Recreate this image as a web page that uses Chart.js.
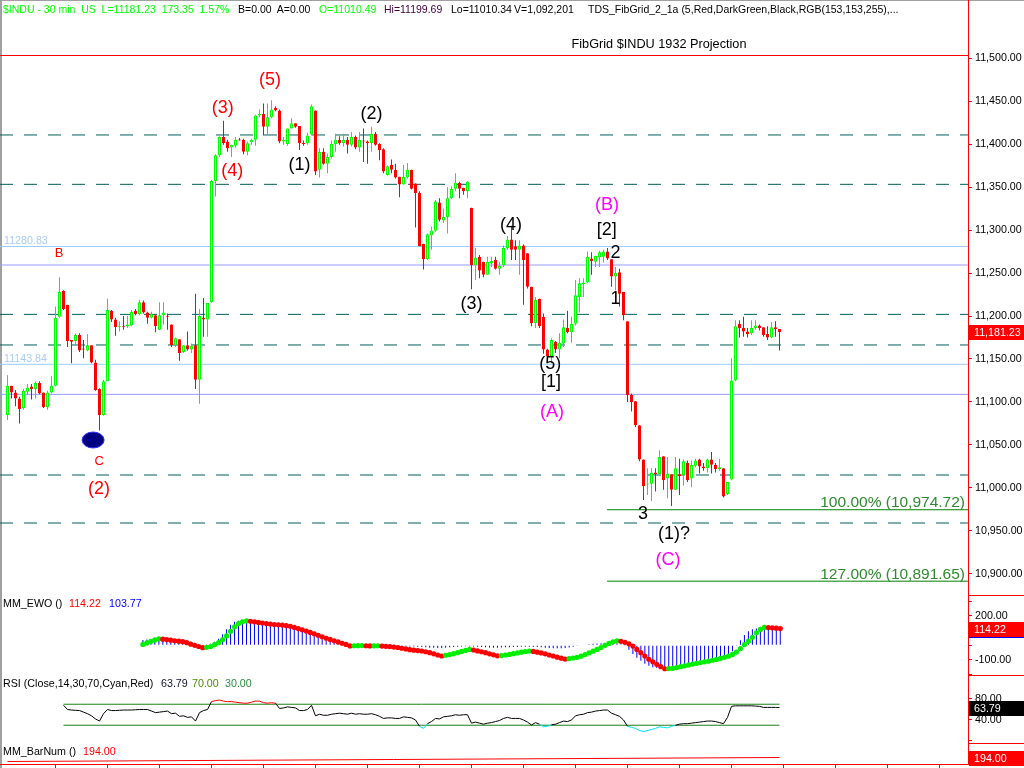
<!DOCTYPE html>
<html>
<head>
<meta charset="utf-8">
<title>$INDU - 30 min</title>
<script src="https://cdn.jsdelivr.net/npm/chart.js"></script>
<style>
  html, body { margin: 0; padding: 0; background: #fff; }
  #wrap { position: relative; width: 1024px; height: 768px; overflow: hidden; background: #fff;
          font-family: "Liberation Sans", Arial, sans-serif; }
  #wrap canvas { position: absolute; left: 0; top: 0; }
  .t { position: absolute; font-size: 10.7px; line-height: 12px; white-space: pre; color: #000; }
  .h { font-size: 10.5px; top: 3px; }
  .ln { position: absolute; background: #ff0000; }
</style>
</head>
<body>
<div id="wrap">
  <div style="position:absolute;left:0;top:0;width:2px;height:768px;background:#a0a0a0"></div>
  <div style="position:absolute;left:0;top:0;width:1024px;height:1px;background:#a0a0a0"></div>
  <div class="ln" style="left:0;top:55px;width:968px;height:1px"></div>
  <div class="ln" style="left:968px;top:0;width:1px;height:765px"></div>
  <div class="ln" style="left:968px;top:595px;width:56px;height:1px"></div>
  <div class="ln" style="left:968px;top:675px;width:56px;height:1px"></div>
  <div class="ln" style="left:968px;top:743px;width:56px;height:1px"></div>

  <canvas id="cPrice" width="1024" height="768"></canvas>
  <canvas id="cEwo" width="1024" height="768"></canvas>
  <canvas id="cRsi" width="1024" height="768"></canvas>
  <canvas id="cBar" width="1024" height="768"></canvas>

  <!-- header line -->
  <div class="t h" style="left:3px;color:#00ff00">$INDU - 30 min  US  L=11181.23  173.35  1.57%</div>
  <div class="t h" style="left:238px">B=0.00  A=0.00</div>
  <div class="t h" style="left:319px;color:#00ff00">O=11010.49</div>
  <div class="t h" style="left:384px;color:#400040">Hi=11199.69</div>
  <div class="t h" style="left:451px">Lo=11010.34</div>
  <div class="t h" style="left:514px">V=1,092,201</div>
  <div class="t h" style="left:588px">TDS_FibGrid_2_1a (5,Red,DarkGreen,Black,RGB(153,153,255),...</div>
  <div class="t" style="left:659px;top:37px;font-size:12.7px;line-height:14px;transform:translateX(-50%)">FibGrid $INDU 1932 Projection</div>

  <!-- indicator captions -->
  <div class="t" style="left:3px;top:597px">MM_EWO ()</div>
  <div class="t" style="left:69px;top:597px;color:#ff0000">114.22</div>
  <div class="t" style="left:109px;top:597px;color:#0000ff">103.77</div>
  <div class="t" style="left:3px;top:677px">RSI (Close,14,30,70,Cyan,Red)</div>
  <div class="t" style="left:161px;top:677px;color:#101030">63.79</div>
  <div class="t" style="left:192px;top:677px;color:#4c8c00">70.00</div>
  <div class="t" style="left:225px;top:677px;color:#2c8c40">30.00</div>
  <div class="t" style="left:3px;top:745px">MM_BarNum ()</div>
  <div class="t" style="left:83px;top:745px;color:#ff0000">194.00</div>
</div>

<script>
// 30 min bars, bar 0 .. 193
const opens = [
  11085, 11119, 11111, 11104, 11093, 11112, 11118, 11115, 11122, 11111,
  11094, 11111, 11119, 11199, 11229, 11213, 11172, 11171, 11178, 11162,
  11160, 11166, 11146, 11115, 11085, 11124, 11206, 11196, 11187, 11188,
  11188, 11189, 11206, 11202, 11216, 11204, 11198, 11201, 11184, 11201,
  11200, 11190, 11166, 11173, 11158, 11166, 11161, 11166, 11126, 11198,
  11196, 11216, 11357, 11387, 11408, 11403, 11396, 11398, 11405, 11405,
  11391, 11402, 11405, 11433, 11435, 11420, 11431, 11442, 11439, 11403,
  11400, 11418, 11424, 11421, 11401, 11401, 11411, 11439, 11370, 11391,
  11377, 11385, 11400, 11405, 11401, 11405, 11399, 11408, 11396, 11404,
  11403, 11401, 11412, 11400, 11394, 11364, 11376, 11370, 11362, 11353,
  11361, 11370, 11354, 11343, 11284, 11266, 11294, 11299, 11332, 11311,
  11315, 11337, 11348, 11355, 11349, 11345, 11326, 11259, 11269, 11263,
  11248, 11261, 11265, 11255, 11259, 11279, 11289, 11281, 11277, 11282,
  11273, 11234, 11192, 11220, 11199, 11161, 11153, 11170, 11161, 11168,
  11186, 11181, 11191, 11222, 11237, 11239, 11267, 11263, 11268, 11269,
  11275, 11266, 11246, 11251, 11228, 11194, 11108, 11101, 11073, 11033,
  11004, 11005, 11018, 11016, 11037, 11011, 11016, 10998, 11016, 11015,
  11029, 11011, 11026, 11033, 11025, 11023, 11033, 11027, 11022, 11023,
  10993, 11010, 11125, 11191, 11186, 11182, 11180, 11186, 11189, 11187,
  11179, 11175, 11187, 11185
];
const highs = [
  11131, 11119, 11114, 11106, 11115, 11121, 11121, 11124, 11124, 11111,
  11113, 11130, 11211, 11245, 11230, 11213, 11172, 11180, 11180, 11172,
  11179, 11166, 11149, 11116, 11126, 11220, 11207, 11198, 11194, 11200,
  11200, 11207, 11208, 11219, 11218, 11205, 11205, 11201, 11216, 11216,
  11203, 11190, 11175, 11173, 11166, 11182, 11168, 11226, 11208, 11221,
  11215, 11358, 11388, 11409, 11427, 11405, 11399, 11408, 11407, 11406,
  11403, 11406, 11434, 11440, 11447, 11447, 11451, 11444, 11440, 11408,
  11418, 11430, 11424, 11421, 11404, 11413, 11446, 11439, 11395, 11395,
  11389, 11404, 11412, 11409, 11412, 11408, 11414, 11410, 11414, 11418,
  11404, 11420, 11414, 11401, 11395, 11375, 11382, 11377, 11362, 11376,
  11378, 11370, 11354, 11345, 11284, 11296, 11304, 11335, 11337, 11325,
  11350, 11351, 11366, 11356, 11349, 11357, 11326, 11279, 11271, 11263,
  11269, 11269, 11269, 11263, 11282, 11293, 11305, 11288, 11288, 11283,
  11273, 11234, 11222, 11220, 11203, 11162, 11174, 11171, 11180, 11196,
  11206, 11199, 11242, 11244, 11244, 11275, 11274, 11270, 11276, 11277,
  11279, 11266, 11257, 11255, 11228, 11194, 11110, 11101, 11073, 11033,
  11023, 11023, 11023, 11044, 11037, 11036, 11016, 11036, 11034, 11033,
  11032, 11032, 11034, 11034, 11029, 11034, 11042, 11029, 11034, 11023,
  11007, 11151, 11195, 11195, 11199, 11186, 11195, 11195, 11190, 11187,
  11188, 11193, 11194, 11185
];
const lows = [
  11079, 11104, 11095, 11075, 11091, 11108, 11103, 11104, 11109, 11093,
  11091, 11110, 11118, 11198, 11207, 11164, 11145, 11166, 11158, 11151,
  11159, 11145, 11113, 11067, 11084, 11124, 11193, 11177, 11182, 11184,
  11186, 11188, 11201, 11201, 11203, 11191, 11197, 11181, 11184, 11190,
  11184, 11164, 11164, 11148, 11157, 11160, 11157, 11115, 11098, 11176,
  11176, 11215, 11339, 11385, 11399, 11391, 11385, 11396, 11404, 11388,
  11387, 11399, 11398, 11431, 11410, 11410, 11430, 11438, 11401, 11399,
  11398, 11418, 11419, 11393, 11398, 11399, 11410, 11364, 11361, 11376,
  11366, 11383, 11391, 11399, 11397, 11389, 11397, 11394, 11391, 11379,
  11377, 11391, 11398, 11381, 11366, 11363, 11366, 11360, 11338, 11353,
  11360, 11347, 11303, 11281, 11254, 11265, 11277, 11298, 11310, 11308,
  11296, 11336, 11345, 11337, 11341, 11337, 11231, 11242, 11244, 11245,
  11248, 11257, 11254, 11248, 11257, 11277, 11265, 11265, 11248, 11213,
  11232, 11188, 11186, 11186, 11156, 11148, 11145, 11157, 11151, 11164,
  11180, 11169, 11189, 11204, 11222, 11238, 11248, 11257, 11257, 11262,
  11265, 11234, 11230, 11211, 11195, 11100, 11089, 11071, 11031, 10986,
  10992, 10985, 10996, 11015, 10998, 10988, 10979, 10998, 10992, 11003,
  11007, 11001, 11024, 11017, 11020, 11018, 11017, 11018, 11020, 10989,
  10992, 11009, 11124, 11175, 11176, 11175, 11178, 11184, 11183, 11176,
  11172, 11174, 11176, 11160
];
const closes = [
  11119, 11111, 11104, 11092, 11113, 11117, 11115, 11122, 11110, 11094,
  11111, 11119, 11198, 11228, 11208, 11171, 11170, 11178, 11160, 11161,
  11166, 11146, 11114, 11085, 11124, 11207, 11196, 11187, 11188, 11187,
  11190, 11205, 11202, 11216, 11204, 11198, 11202, 11188, 11201, 11204,
  11199, 11166, 11174, 11157, 11166, 11161, 11165, 11126, 11200, 11196,
  11215, 11357, 11387, 11408, 11401, 11395, 11399, 11405, 11404, 11391,
  11401, 11405, 11433, 11435, 11420, 11431, 11440, 11439, 11403, 11405,
  11418, 11424, 11420, 11401, 11400, 11410, 11444, 11368, 11391, 11377,
  11385, 11400, 11405, 11401, 11405, 11399, 11408, 11396, 11405, 11403,
  11401, 11412, 11399, 11393, 11368, 11374, 11370, 11361, 11353, 11362,
  11370, 11348, 11343, 11281, 11266, 11295, 11299, 11333, 11312, 11315,
  11337, 11348, 11355, 11348, 11345, 11356, 11259, 11268, 11253, 11248,
  11263, 11264, 11255, 11258, 11279, 11289, 11277, 11277, 11282, 11265,
  11234, 11192, 11219, 11188, 11161, 11153, 11172, 11161, 11169, 11187,
  11181, 11191, 11224, 11238, 11239, 11269, 11264, 11270, 11274, 11275,
  11267, 11246, 11250, 11226, 11201, 11108, 11100, 11073, 11033, 11002,
  11005, 11018, 11016, 11036, 11009, 11017, 10998, 11023, 11014, 11031,
  11009, 11027, 11032, 11025, 11023, 11033, 11027, 11022, 11024, 10990,
  11007, 11125, 11188, 11186, 11182, 11179, 11186, 11189, 11186, 11178,
  11175, 11187, 11185, 11181.23
];

// MM_EWO, from bar 33
const ewoFirstBar = 33;
const ewoLine = [
  6, 16, 27, 37, 44, 42, 39, 35, 31, 28,
  25, 18, 8, 0, -8, -16, -14, -8, 4, 18,
  38, 64, 95, 125, 148, 160, 166, 164, 160, 156,
  152, 148, 145, 142, 140, 138, 134, 130, 122, 114,
  106, 97, 88, 78, 68, 58, 48, 40, 31, 23,
  14, 6, -4, -3, -2.5, -2, -3, -4, -3.5, -3,
  -5, -7, -9, -12, -15, -20, -25, -30, -33, -36,
  -39, -44, -50, -58, -66, -73, -68, -63, -57, -50,
  -42, -35, -28, -32, -38, -44, -50, -58, -65, -72,
  -70, -66, -62, -57, -52, -47, -43, -39, -42, -47,
  -52, -58, -66, -73, -81, -88, -94, -91, -87, -82,
  -74, -63, -52, -40, -28, -15, 0, 13, 24, 31,
  27, 20, 10, -5, -28, -50, -73, -95, -113, -130,
  -146, -160, -159, -157, -152, -146, -140, -134, -128, -123,
  -118, -113, -108, -102, -96, -89, -82, -74, -62, -46,
  -22, 5, 28, 55, 85, 108, 122, 121, 119, 117,
  114.22
];
const ewoHist = [
  36, 40, 42, 42, 40, 36, 32, 28, 24, 20,
  15, 10, 5, 2, 0, -2, 2, 10, 25, 45,
  75, 110, 140, 160, 168, 165, 160, 155, 150, 148,
  146, 144, 142, 140, 138, 136, 130, 122, 112, 102,
  92, 82, 72, 62, 52, 42, 34, 26, 18, 12,
  8, 5, 4, 3, 3, 3, 3, 2, 2, 2,
  1, 0, -2, -4, -5, -6, -7, -8, -9, -10,
  -12, -14, -16, -17, -18, -18, -16, -14, -12, -10,
  -8, -7, -6, -8, -10, -12, -14, -15, -16, -16,
  -15, -14, -13, -12, -11, -10, -10, -10, -11, -12,
  -14, -16, -18, -20, -20, -20, -18, -15, -10, -5,
  0, 4, 8, 10, 12, 14, 15, 16, 16, 14,
  8, -5, -30, -60, -85, -105, -125, -140, -150, -155,
  -158, -160, -158, -155, -150, -145, -140, -134, -128, -122,
  -116, -110, -104, -97, -90, -82, -74, -65, -40, -5,
  35, 70, 95, 110, 114, 116, 116, 115, 114, 112,
  103.77
];

// RSI(14), from bar 14
const rsiFirstBar = 14;
const rsiValues = [
  68, 60, 59, 58.5, 58, 55, 52, 48, 42, 38,
  52, 60, 58, 58, 58.5, 59, 59, 59, 59.5, 60,
  60, 60, 57, 54, 55, 56, 57, 52, 53, 47,
  48, 45, 46, 38, 54, 58, 60, 75, 77, 78,
  76, 75, 75, 74, 73, 72, 72, 74, 76, 76,
  73, 72, 73, 72, 62, 63, 65, 64, 63, 58,
  58, 60, 68, 48, 51, 49, 49, 51, 52, 53,
  52, 51, 53, 51, 52, 51, 51, 52, 50, 47,
  43, 44, 44, 43, 43, 46, 45, 44, 40, 28,
  24, 33, 37, 43, 42, 46, 47, 48, 50, 49,
  50, 50, 34, 36, 34, 32, 34, 35, 37, 39,
  43, 45, 43, 43, 43, 40, 36, 30.5, 35, 32,
  27, 28, 31, 32, 35, 38, 37, 40, 48, 50,
  51, 54, 55, 57, 58, 59, 59, 53, 50, 47,
  40, 28, 26, 24, 20, 18, 20, 22, 24, 27,
  26, 25, 28, 30, 32, 33, 33, 34, 35, 36,
  37, 38, 38, 37, 35, 33, 45, 66, 67, 67,
  67, 67, 67, 66.5, 66, 64, 64, 64, 64, 63.79
];
const rsiBands = [70, 30];

// MM_BarNum, first and last bar
const barNumBars = [0, 193];
const barNumValues = [1, 194];

// FibGrid levels
const fibLevels = [11410.5, 11353.1, 11201.9, 11166.3, 11015.1, 10959.3];
const blueLevels = [11280.83, 11143.84];
const violetLevels = [11259.3, 11108.9];
const projLevels = [10974.72, 10891.65];
const projNames = ['100.00%', '127.00%'];
const projFromBar = 149.9;

// axis ticks
const priceTicks = [10900, 10950, 11000, 11050, 11100, 11150, 11200, 11250, 11300, 11350, 11400, 11450, 11500];
const ewoTicks = [-200, -150, -100, -50, 0, 50, 100, 150, 200, 250, 300];
const ewoLabeled = [200, 50, -100];
const rsiTicks = [0, 20, 40, 60, 80, 100];
const rsiLabeled = [80, 40];
const dayTicks = [12, 25, 38, 51, 64, 77, 90, 103, 116, 129, 142, 155, 168, 181, 194, 207, 220, 233];

const FONT = '"Liberation Sans", Arial, sans-serif';
const X_MIN = -1.875, X_MAX = 240.125;
const UP = '#00ff00', DOWN = '#ff0000';

const money = v => v.toLocaleString('en-US', { minimumFractionDigits: 2, maximumFractionDigits: 2 });

function xAxis() {
  return { type: 'linear', min: X_MIN, max: X_MAX, display: false, offset: false };
}

function rightAxis(min, max, tickValues, label) {
  return {
    position: 'right', min: min, max: max,
    afterBuildTicks: s => { s.ticks = tickValues.map(v => ({ value: v })); },
    afterFit: s => { s.width = 56; },
    border: { display: false },
    grid: { drawOnChartArea: false, color: '#ff0000', tickLength: 4 },
    ticks: { color: '#000', padding: 3, font: { family: FONT, size: 10.7 }, callback: label }
  };
}

function baseOptions(top, bottom, scales) {
  return {
    responsive: false, animation: false, devicePixelRatio: 1, events: [],
    layout: { padding: { top: top, bottom: 768 - bottom, left: 0, right: 0 } },
    plugins: { legend: { display: false }, tooltip: { enabled: false } },
    scales: scales
  };
}

function levelLine(value, color, dash, from, to) {
  return {
    type: 'line', order: 10,
    data: [{ x: from, y: value }, { x: to, y: value }],
    borderColor: color, borderWidth: 1, borderDash: dash, pointRadius: 0, fill: false
  };
}

// value box on the right axis
function axisBox(chart, value, text, bg) {
  const { ctx, chartArea, scales: { y } } = chart;
  const py = Math.round(y.getPixelForValue(value));
  ctx.save();
  ctx.fillStyle = bg;
  ctx.fillRect(chartArea.right + 1, py - 7, 1024 - chartArea.right - 1, 15);
  ctx.fillStyle = '#fff';
  ctx.font = '10.7px ' + FONT;
  ctx.textAlign = 'left';
  ctx.textBaseline = 'middle';
  ctx.fillText(text, chartArea.right + 6, py + 1);
  ctx.restore();
}

// ---------- price pane ----------
const idx = closes.map((c, i) => i);
const isUp = idx.map(i => closes[i] >= opens[i]);

const waveNotes = [
  { bar: 65.6, price: 11474.4, text: '(5)', color: '#ff0000' },
  { bar: 53.8, price: 11441.9, text: '(3)', color: '#ff0000' },
  { bar: 56.2, price: 11368.6, text: '(4)', color: '#ff0000' },
  { bar: 73.0, price: 11375.6, text: '(1)', color: '#000' },
  { bar: 91.0, price: 11434.9, text: '(2)', color: '#000' },
  { bar: 125.9, price: 11305.8, text: '(4)', color: '#000' },
  { bar: 116.0, price: 11213.9, text: '(3)', color: '#000' },
  { bar: 135.7, price: 11144.2, text: '(5)', color: '#000' },
  { bar: 135.9, price: 11123.3, text: '[1]', color: '#000' },
  { bar: 136.1, price: 11088.4, text: '(A)', color: '#ff00ff' },
  { bar: 149.9, price: 11328.6, text: '(B)', color: '#ff00ff' },
  { bar: 149.8, price: 11299.5, text: '[2]', color: '#000' },
  { bar: 152.0, price: 11273.8, text: '2', color: '#000' },
  { bar: 152.0, price: 11219.8, text: '1', color: '#000' },
  { bar: 158.9, price: 10969.8, text: '3', color: '#000' },
  { bar: 166.6, price: 10946.5, text: '(1)?', color: '#000' },
  { bar: 165.1, price: 10916.3, text: '(C)', color: '#ff00ff' },
  { bar: 22.9, price: 10998.8, text: '(2)', color: '#ff0000' },
  { bar: 12.9, price: 11273.3, text: 'B', color: '#ff0000', small: true },
  { bar: 22.9, price: 11031.4, text: 'C', color: '#ff0000', small: true }
];

const priceDecor = {
  id: 'priceDecor',
  afterDatasetsDraw(chart) {
    const { ctx, chartArea: a, scales: { x, y } } = chart;
    ctx.save();
    ctx.textAlign = 'left';
    ctx.textBaseline = 'alphabetic';
    ctx.font = '10.7px ' + FONT;
    ctx.fillStyle = '#a8ccf4';
    blueLevels.forEach(v => ctx.fillText(v.toFixed(2), 4, y.getPixelForValue(v) - 2.5));

    ctx.textAlign = 'right';
    ctx.font = '15.5px ' + FONT;
    ctx.fillStyle = '#2e8b2e';
    projLevels.forEach((v, k) => ctx.fillText(projNames[k] + ' (' + money(v) + ')', a.right - 3, y.getPixelForValue(v) - 2.5));

    // low marker at wave C
    ctx.beginPath();
    ctx.ellipse(x.getPixelForValue(21.4), y.getPixelForValue(11055.8), 11, 8, 0, 0, Math.PI * 2);
    ctx.fillStyle = '#000080';
    ctx.fill();
    ctx.strokeStyle = '#3030ff';
    ctx.lineWidth = 1;
    ctx.stroke();

    ctx.textAlign = 'center';
    ctx.textBaseline = 'middle';
    waveNotes.forEach(n => {
      ctx.font = (n.small ? '13px ' : '18px ') + FONT;
      ctx.fillStyle = n.color;
      ctx.fillText(n.text, x.getPixelForValue(n.bar), y.getPixelForValue(n.price));
    });
    ctx.restore();
  },
  afterDraw(chart) {
    axisBox(chart, closes[closes.length - 1], money(closes[closes.length - 1]), '#ff0000');
  }
};

new Chart(document.getElementById('cPrice'), {
  type: 'bar',
  data: {
    datasets: [
      ...fibLevels.map(v => levelLine(v, '#005f5f', [13, 11], X_MIN, X_MAX)),
      ...blueLevels.map(v => levelLine(v, '#99ccff', [], X_MIN, X_MAX)),
      ...violetLevels.map(v => levelLine(v, '#9999ff', [], X_MIN, X_MAX)),
      ...projLevels.map(v => levelLine(v, '#008000', [], projFromBar, X_MAX)),
      {
        type: 'bar', order: 3, grouped: false, barThickness: 1, inflateAmount: 0,
        data: idx.map(i => ({ x: i, y: [lows[i], highs[i]] })),
        backgroundColor: idx.map(i => isUp[i] ? UP : DOWN), borderWidth: 0
      },
      {
        type: 'bar', order: 2, grouped: false, barThickness: 3, inflateAmount: 0, minBarLength: 1,
        data: idx.map(i => ({ x: i, y: [opens[i], closes[i]] })),
        backgroundColor: idx.map(i => isUp[i] ? '#ffffff' : DOWN),
        borderColor: idx.map(i => isUp[i] ? UP : DOWN),
        borderWidth: 1, borderSkipped: false
      }
    ]
  },
  options: baseOptions(55, 595, {
    x: xAxis(),
    y: rightAxis(10875.58, 11503.49, priceTicks, v => money(v))
  }),
  plugins: [priceDecor]
});

// ---------- MM_EWO pane ----------
new Chart(document.getElementById('cEwo'), {
  type: 'bar',
  data: {
    datasets: [
      {
        type: 'line', order: 1, showLine: false,
        data: ewoLine.map((v, k) => ({ x: ewoFirstBar + k, y: v })),
        pointRadius: 2.6, pointBorderWidth: 0,
        pointBackgroundColor: ewoLine.map((v, k) => (k === 0 || v >= ewoLine[k - 1]) ? '#00ee00' : '#ff0000')
      },
      {
        type: 'bar', order: 2, grouped: false, barThickness: 1, inflateAmount: 0,
        data: ewoHist.map((v, k) => ({ x: ewoFirstBar + k, y: v })),
        backgroundColor: '#0000ff', borderWidth: 0
      }
    ]
  },
  options: baseOptions(595, 675, {
    x: xAxis(),
    y: rightAxis(-202.5, 343, ewoTicks, v => ewoLabeled.includes(v) ? v.toFixed(2) : '')
  }),
  plugins: [{
    id: 'ewoBox',
    afterDraw(chart) {
      axisBox(chart, ewoHist[ewoHist.length - 1], '', '#0000ff');
      axisBox(chart, ewoLine[ewoLine.length - 1], ewoLine[ewoLine.length - 1].toFixed(2), '#ff0000');
    }
  }]
});

// ---------- RSI pane ----------
const rsiFrom = rsiFirstBar, rsiTo = rsiFirstBar + rsiValues.length - 1;
new Chart(document.getElementById('cRsi'), {
  type: 'line',
  data: {
    datasets: [
      ...rsiBands.map(v => levelLine(v, '#1a7f1a', [], rsiFrom, rsiTo)),
      {
        type: 'line', order: 1,
        data: rsiValues.map((v, k) => ({ x: rsiFirstBar + k, y: v })),
        borderColor: '#000', borderWidth: 1, pointRadius: 0, fill: false,
        segment: {
          borderColor: c => {
            const m = (c.p0.parsed.y + c.p1.parsed.y) / 2;
            return m > 70 ? '#ff0000' : (m < 30 ? '#00e0f0' : '#000');
          }
        }
      }
    ]
  },
  options: baseOptions(675, 743, {
    x: xAxis(),
    y: rightAxis(-3.81, 125.71, rsiTicks, v => rsiLabeled.includes(v) ? v.toFixed(2) : '')
  }),
  plugins: [{
    id: 'rsiBox',
    afterDraw(chart) { axisBox(chart, rsiValues[rsiValues.length - 1], rsiValues[rsiValues.length - 1].toFixed(2), '#000'); }
  }]
});

// ---------- MM_BarNum pane + time axis ----------
new Chart(document.getElementById('cBar'), {
  type: 'line',
  data: {
    datasets: [{
      data: barNumBars.map((b, k) => ({ x: b, y: barNumValues[k] })),
      borderColor: '#ff0000', borderWidth: 1, pointRadius: 0, fill: false
    }]
  },
  options: baseOptions(743, 768, {
    x: {
      type: 'linear', min: X_MIN, max: X_MAX, offset: false, position: 'bottom',
      afterBuildTicks: s => { s.ticks = dayTicks.map(v => ({ value: v })); },
      afterFit: s => { s.height = 4; },
      border: { display: true, color: '#ff0000' },
      grid: { drawOnChartArea: false, color: '#ff0000', tickLength: 4 },
      ticks: { display: false }
    },
    y: rightAxis(-119.6, 893.6, [], () => '')
  }),
  plugins: [{
    id: 'barBox',
    afterDraw(chart) { axisBox(chart, barNumValues[1], barNumValues[1].toFixed(2), '#ff0000'); }
  }]
});
</script>
</body>
</html>
